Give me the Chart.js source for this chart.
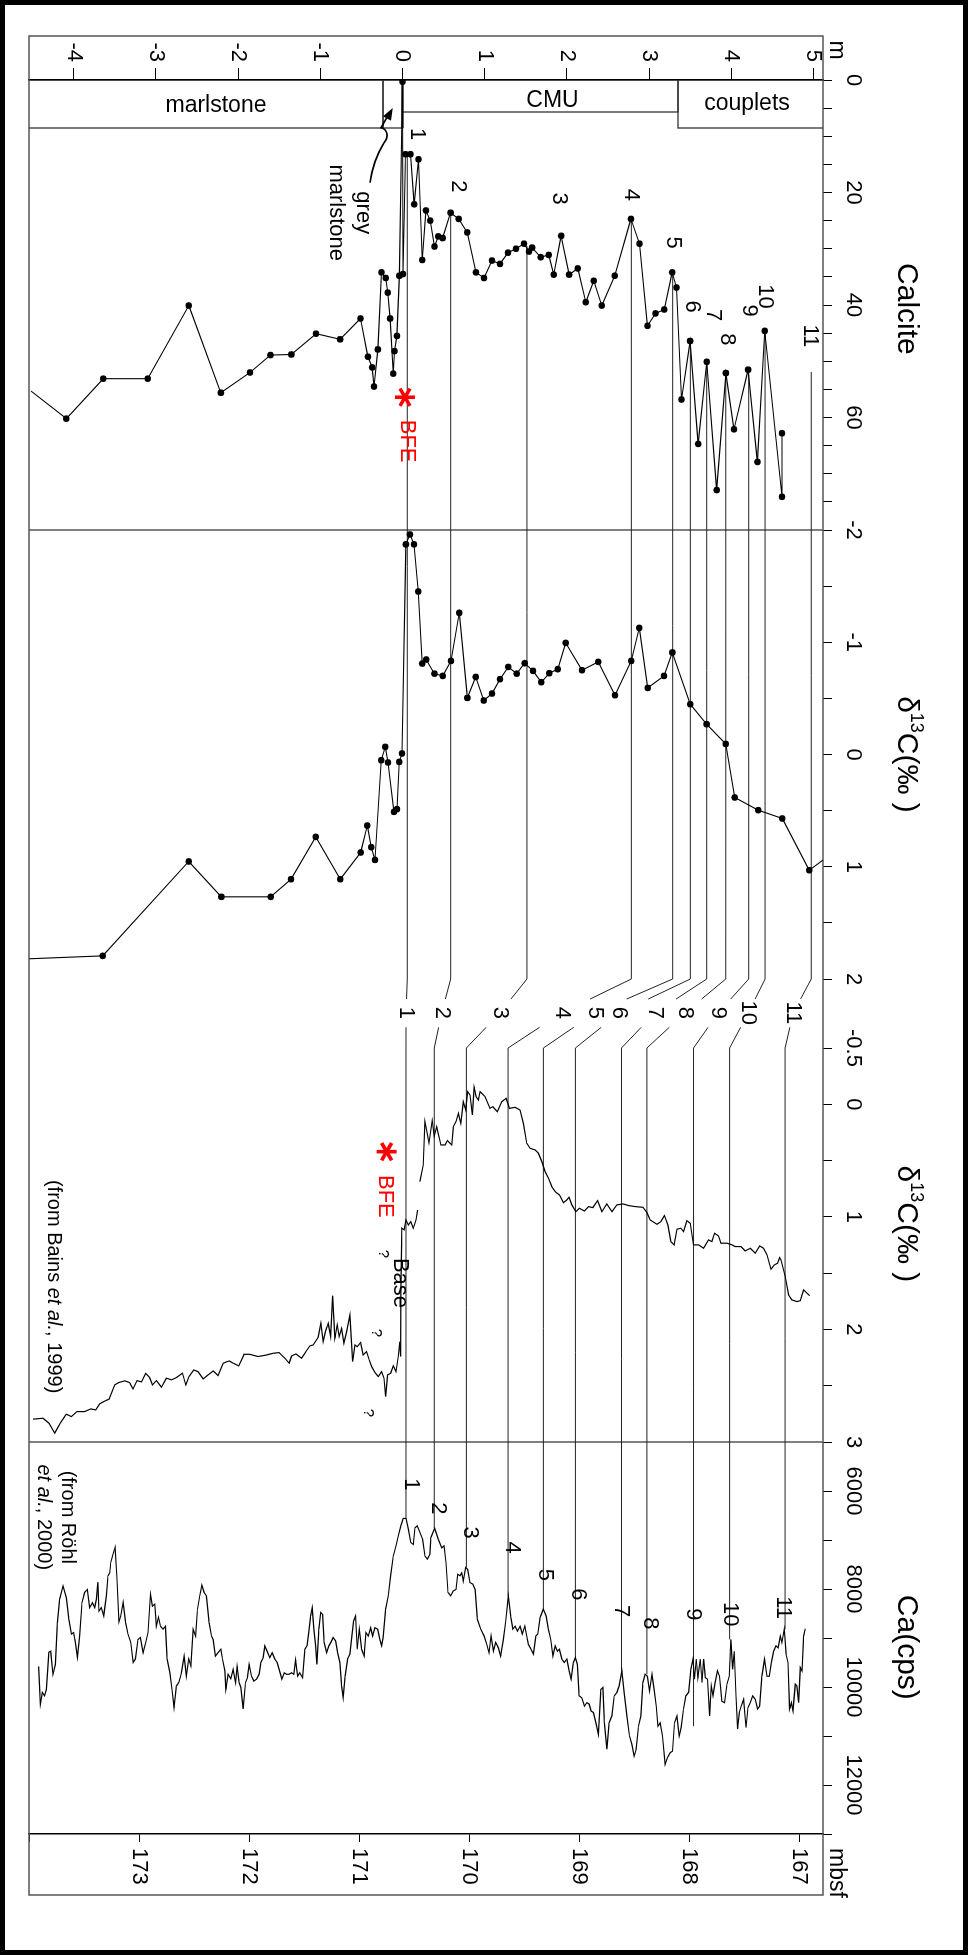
<!DOCTYPE html>
<html><head><meta charset="utf-8">
<script src="https://cdn.jsdelivr.net/npm/chart.js@4.4.1/dist/chart.umd.min.js"></script>
<style>
html,body{margin:0;padding:0;background:#fff;}
body{width:968px;height:1955px;overflow:hidden;position:relative;}
#c{position:absolute;left:0;top:0;transform-origin:0 0;transform:translate(968px,0) rotate(90deg);}
#border{position:absolute;left:0;top:0;width:968px;height:1955px;box-sizing:border-box;border:5px solid #000;pointer-events:none;}
</style></head><body>
<canvas id="c" width="1955" height="968"></canvas>
<div id="border"></div>
<script>
// ---------- DATA ----------
// Calcite (%) vs stratigraphic height (m)
const calDepth = [-4.52,-4.09,-3.64,-3.10,-2.60,-2.21,-1.855,-1.607,-1.352,-1.052,-0.759,-0.511,-0.421,-0.369,-0.347,-0.30,-0.256,-0.203,-0.18,-0.151,-0.113,-0.098,-0.068,-0.038,0.0,0.007,0.037,0.097,0.142,0.195,0.240,0.285,0.337,0.39,0.435,0.488,0.585,0.683,0.788,0.893,0.991,1.089,1.186,1.283,1.381,1.479,1.54,1.577,1.681,1.78,1.84,1.93,2.027,2.133,2.23,2.327,2.425,2.582,2.779,2.883,2.981,3.079,3.184,3.281,3.334,3.394,3.499,3.597,3.702,3.822,3.934,4.033,4.205,4.318,4.408,4.618,4.618];
const calValue = [55.3,60.2,53.1,53.1,40.1,55.6,52.0,48.9,48.8,45.1,46.1,42.4,49.2,51.1,54.5,47.9,34.2,35.2,37.8,42.4,52.2,48.2,45.5,34.8,0.3,34.5,13.2,13.2,22.1,14.1,32.0,23.2,25.0,29.6,27.8,28.1,23.6,24.7,27.1,34.2,35.2,32.1,32.7,30.7,30.0,29.1,30.5,29.8,31.5,31.1,34.6,27.7,34.6,33.5,39.5,35.7,40.1,34.8,24.7,29.1,43.7,41.5,40.8,34.2,36.9,56.8,46.4,64.7,50.1,72.9,52.1,62.1,51.5,67.9,44.6,74.1,62.8];
// d13C (permil) vs height (m)
const d13Depth = [-4.54,-3.648,-2.601,-2.204,-1.604,-1.356,-1.056,-0.757,-0.509,-0.428,-0.38,-0.335,-0.258,-0.209,-0.176,-0.103,-0.067,-0.039,-0.006,0.041,0.09,0.14,0.191,0.239,0.288,0.388,0.489,0.59,0.691,0.789,0.89,0.988,1.089,1.186,1.287,1.389,1.486,1.588,1.689,1.786,1.888,1.985,2.184,2.382,2.585,2.784,2.881,2.983,3.181,3.283,3.501,3.70,3.932,4.041,4.329,4.621,4.949,5.116];
const d13Value = [1.82,1.794,0.953,1.268,1.268,1.111,0.734,1.111,0.873,0.633,0.826,0.939,0.051,-0.068,0.071,0.511,0.487,0.066,-0.009,-1.872,-1.96,-1.872,-1.452,-0.81,-0.846,-0.72,-0.70,-0.834,-1.262,-0.504,-0.691,-0.481,-0.543,-0.671,-0.78,-0.72,-0.813,-0.745,-0.644,-0.724,-0.76,-0.994,-0.751,-0.825,-0.528,-0.834,-1.128,-0.593,-0.70,-0.909,-0.448,-0.27,-0.094,0.383,0.496,0.57,1.031,0.94];
// Bains et al. 1999 d13C vs mbsf
const bainsMbsf = [173.965,173.874,173.82,173.768,173.716,173.662,173.616,173.565,173.495,173.44,173.395,173.358,173.304,173.274,173.222,173.186,173.131,173.086,173.055,173.019,172.979,172.94,172.904,172.879,172.843,172.797,172.752,172.706,172.661,172.606,172.576,172.546,172.503,172.464,172.418,172.373,172.327,172.282,172.236,172.182,172.145,172.094,172.048,171.994,171.918,171.842,171.782,171.727,171.675,171.636,171.614,171.575,171.523,171.484,171.448,171.418,171.372,171.348,171.327,171.305,171.281,171.259,171.241,171.22,171.199,171.181,171.159,171.138,171.114,171.084,171.059,171.038,171.017,170.986,170.963,170.932,170.908,170.886,170.856,170.826,170.795,170.774,170.759,170.741,170.713,170.69,170.665,170.644,170.629,170.622,170.62,170.611,170.592,170.574,170.553,170.531,170.508,170.483,170.468,null,170.447,170.417,170.401,170.365,170.335,170.317,170.295,170.258,170.219,170.198,170.158,170.144,170.119,170.098,170.076,170.053,170.031,170.013,169.992,169.971,169.955,169.937,169.916,169.901,169.855,169.81,169.785,169.743,169.703,169.664,169.634,169.582,169.537,169.507,169.476,169.446,169.4,169.37,169.339,169.309,169.279,169.248,169.218,169.179,169.143,169.112,169.091,169.066,169.03,168.997,168.952,168.915,168.875,168.833,168.793,168.748,168.702,168.657,168.602,168.551,168.49,168.42,168.384,168.354,168.293,168.257,168.224,168.193,168.166,168.136,168.111,168.075,168.051,168.02,167.99,167.96,167.914,167.869,167.823,167.793,167.769,167.732,167.711,167.656,167.611,167.581,167.529,167.49,167.444,167.399,167.359,167.323,167.292,167.256,167.226,167.196,167.177,167.165,167.126,167.096,167.065,167.019,166.989,166.959,166.928,166.904];
const bainsD13C = [2.797,2.789,2.833,2.922,2.833,2.753,2.774,2.73,2.73,2.706,2.715,2.661,2.632,2.62,2.493,2.472,2.457,2.472,2.528,2.455,2.466,2.39,2.428,2.493,2.455,2.513,2.433,2.448,2.428,2.389,2.493,2.419,2.36,2.375,2.44,2.404,2.369,2.41,2.3,2.28,2.3,2.324,2.227,2.221,2.241,2.227,2.212,2.206,2.256,2.3,2.236,2.218,2.256,2.197,2.147,2.138,2.07,1.945,2.108,2.013,1.945,2.063,1.70,2.078,1.96,2.063,1.99,2.123,2.02,1.871,2.286,2.138,2.153,2.117,2.227,2.197,2.271,2.33,2.383,2.419,2.375,2.433,2.597,2.404,2.389,2.324,2.375,2.241,2.108,2.241,1.649,1.101,1.116,1.028,1.072,1.043,1.101,1.028,0.939,null,0.687,0.539,0.154,0.341,0.146,0.282,0.199,0.355,0.361,0.323,0.361,0.199,0.154,0.08,0.169,-0.023,0.051,-0.112,-0.083,0.095,-0.151,-0.068,-0.038,-0.112,-0.068,0.036,0.021,0.066,-0.023,-0.053,0.036,0.027,0.051,0.169,0.346,0.391,0.406,0.435,0.51,0.599,0.657,0.732,0.776,0.806,0.874,0.85,0.826,0.894,0.954,0.924,0.948,0.909,0.918,0.856,0.954,0.885,0.954,0.894,0.885,0.9,0.909,0.915,0.962,1.028,1.066,1.043,0.989,1.072,1.22,1.249,1.11,1.101,1.131,1.034,1.057,1.249,1.249,1.279,1.205,1.22,1.146,1.17,1.234,1.234,1.249,1.264,1.264,1.303,1.279,1.323,1.258,1.279,1.338,1.465,1.427,1.412,1.362,1.383,1.531,1.694,1.738,1.753,1.744,1.649,1.679,1.70];
// Röhl et al. 2000 Ca (cps) vs mbsf
const caMbsf = [173.913,173.898,173.880,173.859,173.843,173.820,173.804,173.783,173.761,173.743,173.722,173.692,173.661,173.638,173.616,173.595,173.580,173.561,173.540,173.519,173.495,173.470,173.449,173.425,173.404,173.388,173.374,173.365,173.343,173.322,173.297,173.283,173.267,173.258,173.237,173.219,173.201,173.183,173.167,173.146,173.122,173.101,173.076,173.055,173.034,173.010,172.988,172.964,172.940,172.919,172.897,172.879,172.858,172.843,172.824,172.806,172.783,172.761,172.746,172.721,172.701,172.682,172.661,172.640,172.615,172.591,172.570,172.549,172.530,172.509,172.487,172.469,172.449,172.430,172.409,172.388,172.364,172.342,172.327,172.306,172.282,172.257,172.242,172.221,172.212,172.191,172.166,172.146,172.124,172.109,172.091,172.075,172.055,172.033,172.015,172.000,171.978,171.957,171.933,171.909,171.893,171.872,171.857,171.836,171.812,171.791,171.766,171.745,171.727,171.702,171.681,171.660,171.636,171.614,171.593,171.578,171.559,171.539,171.514,171.493,171.472,171.454,171.441,171.427,171.411,171.396,171.384,171.366,171.350,171.332,171.318,171.296,171.275,171.257,171.236,171.214,171.196,171.175,171.159,171.145,171.127,171.105,171.084,171.066,171.050,171.032,171.017,170.999,170.977,170.954,170.938,170.917,170.895,170.877,170.856,170.832,170.811,170.795,170.781,170.759,170.735,170.713,170.690,170.665,170.644,170.620,170.599,170.574,170.553,170.531,170.508,170.492,170.471,170.447,170.422,170.401,170.380,170.356,170.347,170.313,170.280,170.249,170.228,170.210,170.192,170.167,170.144,170.119,170.104,170.083,170.067,170.053,170.031,170.013,169.992,169.967,169.946,169.925,169.894,169.864,169.840,169.819,169.801,169.780,169.758,169.734,169.713,169.689,169.667,169.643,169.621,169.603,169.582,169.561,169.537,169.516,169.494,169.476,169.461,169.437,169.416,169.394,169.376,169.355,169.325,169.300,169.279,169.258,169.239,169.218,169.197,169.179,169.157,169.136,169.112,169.091,169.073,169.052,169.034,169.016,169.000,168.976,168.952,168.930,168.909,168.891,168.870,168.848,168.825,168.803,168.784,168.770,168.748,168.727,168.703,168.681,168.657,168.636,168.612,168.591,168.566,168.542,168.520,168.499,168.481,168.460,168.438,168.420,168.400,168.379,168.360,168.338,168.318,168.299,168.284,168.263,168.242,168.218,168.197,168.172,168.151,168.133,168.111,168.090,168.072,168.051,168.029,168.005,167.984,167.965,167.951,167.935,167.920,167.899,167.883,167.869,167.853,167.833,167.814,167.799,167.784,167.763,167.742,167.724,167.702,167.678,167.656,167.635,167.620,167.605,167.590,167.574,167.560,167.544,167.526,167.505,167.483,167.465,167.444,167.423,167.399,167.378,167.359,167.338,167.314,167.292,167.271,167.253,167.232,167.210,167.192,167.171,167.156,167.135,167.119,167.101,167.087,167.071,167.056,167.035,167.020,167.005,166.989,166.974,166.959,166.944];
const caCps = [9580,10350,10110,10180,10050,9290,9270,9740,9540,8690,8210,7940,8180,8620,8920,8890,9090,9400,8960,8280,8070,8010,8380,8280,8380,8210,7860,8450,8380,8550,8140,7730,7670,7460,7290,7150,7800,8670,8550,8270,8690,8920,9090,9500,9430,9030,8990,9300,9090,8890,8110,8350,8310,8760,8580,8760,8820,8760,9430,9710,10050,10420,9980,9910,9710,9370,9780,9430,9570,8820,8960,8410,8140,7920,8070,8140,8690,8960,9030,9370,9300,9230,9430,9670,10050,9740,9830,9640,9910,9580,9910,10010,10450,9910,9810,9540,9780,9880,9840,9740,9500,9400,9160,9270,9400,9300,9430,9500,9640,9840,9710,9740,9740,9710,9740,9450,9780,9710,9810,9230,9150,8820,8550,8380,8820,9160,9540,8820,8480,8520,9090,9300,9160,9090,8990,9060,9300,9500,9980,10220,9780,9430,9330,8960,8650,8550,9230,8820,9230,9370,8890,8960,8790,8960,8790,8820,9030,9160,8990,8410,8140,7730,7330,7120,6920,6710,6560,6560,6780,7050,7090,6750,6710,6850,6990,7330,7390,7290,6950,6760,6990,7160,7120,7460,8070,8140,8040,8010,7700,7730,7670,7840,7560,7600,7870,7900,8010,8620,8820,8960,9130,9300,8960,9270,9090,9200,9370,9030,8650,8140,8580,8820,8760,8860,8760,8920,8760,8960,9130,9230,9330,8960,8920,8580,8410,8550,8820,9030,9370,9160,9270,9230,9430,9500,9430,9670,9840,9500,9400,9540,10180,10220,10390,10320,10350,10490,10520,10730,10970,10050,10010,10730,11270,10730,10590,10180,10110,9980,9670,10110,10590,11000,11170,11410,11270,10800,10590,9910,9740,9780,10080,9740,10050,10390,10800,10730,11000,11580,11440,11340,11310,10730,10590,11000,10830,10450,10180,10110,9640,9430,9840,9430,9810,9430,9910,9430,9810,9840,10590,9980,10180,9910,9670,9780,10290,10320,9940,9780,9030,9640,9270,10180,10860,10520,10390,10250,10830,10420,10320,10180,10250,10450,10390,9780,9430,9780,9780,9500,9270,9160,9200,8960,9090,8820,9330,9500,10450,10320,10490,9940,9980,10320,9600,9670,8960,8810];
// Correlation tie lines 1-11
const corrNames = ['1','2','3','4','5','6','7','8','9','10','11'];
const corrM = [0.058,0.586,1.514,2.784,3.287,3.502,3.701,3.933,4.212,4.411,4.973];
const corrCalStart = [13.2,23.6,29.5,24.7,34.2,46.4,50.1,52.1,51.5,44.6,51.9];
const corrGapLabelM = [0.043,0.477,1.186,1.937,2.342,2.637,3.072,3.437,3.842,4.207,4.754];
const corrMbsf = [170.574,170.317,170.025,169.646,169.325,169.034,168.615,168.384,167.960,167.632,167.128];
const corrCaEnd = [6560,6760,7560,8140,8410,9400,9670,9740,10800,9030,8820];
const calLabelCal = [9.6,18.9,21.1,20.4,28.9,40.3,41.8,46.1,41.0,38.5,45.5];
const calLabelM = [0.173,0.676,1.901,2.782,3.291,3.529,3.777,3.948,4.213,4.415,4.957];
const caLabelCa = [5863,6353,6849,7155,7714,8108,8449,8700,8516,8516,8380];
const caLabelMbsf = [170.531,170.28,169.992,169.612,169.309,169.006,168.618,168.354,167.96,167.626,167.147];
// Lithology column (m)
const lithNames = ['marlstone','','CMU','couplets'];
const lithBase = [-4.8,-0.237,0,3.352];
const lithTop = [-0.237,0,3.352,5.3];
const lithLabelM = [-2.269,null,1.825,4.191];

// ---------- STYLE ----------
const FONT = "'Liberation Sans', Arial, Helvetica, sans-serif";
const f = (s, st) => (st ? st + ' ' : '') + s + 'px ' + FONT;
const lithWidth = [48,48,32,48];
const lithLabelOff = [26,0,21,24];
const GAP_UP = 0.29, GAP_LABEL = 0.49, GAP_DN = 0.70;

const pts = (ys, xs) => xs.map((v, i) => ({x: v, y: ys[i]}));

function topAxis(min, max, step, weight, sw, labelFn) {
  return {
    type: 'linear', position: 'top', stack: 'panels', stackWeight: sw, weight: weight,
    min: min, max: max,
    ticks: { stepSize: step, includeBounds: false, autoSkip: false, maxRotation: 0, minRotation: 0, padding: 8,
             color: '#000', font: {family: FONT, size: 22}, callback: labelFn },
    grid: { drawOnChartArea: false, drawTicks: true, tickLength: 9, color: '#000', tickColor: '#000', lineWidth: 1 },
    border: { display: false },
    afterFit: s => { s.height = 145; }
  };
}

function star(ctx, x, y, r) {
  ctx.save(); ctx.strokeStyle = '#f00'; ctx.lineWidth = 3.6; ctx.lineCap = 'butt';
  [90, 30, 150].forEach(a => {
    const t = a * Math.PI / 180, dx = Math.cos(t) * r, dy = Math.sin(t) * r;
    ctx.beginPath(); ctx.moveTo(x - dx, y - dy); ctx.lineTo(x + dx, y + dy); ctx.stroke();
  });
  ctx.restore();
}
function rich(ctx, parts, x, y, size, align) {
  let total = 0;
  parts.forEach(p => { ctx.font = f(size, p.i ? 'italic' : ''); p.w = ctx.measureText(p.t).width; total += p.w; });
  let cx = align === 'center' ? x - total / 2 : x;
  ctx.textAlign = 'left';
  parts.forEach(p => { ctx.font = f(size, p.i ? 'italic' : ''); ctx.fillText(p.t, cx, y); cx += p.w; });
}
function d13Title(ctx, cx, y) {
  ctx.font = f(30); const w1 = ctx.measureText('δ').width, w3 = ctx.measureText('C(‰ )').width;
  ctx.font = f(18); const w2 = ctx.measureText('13').width;
  let x = cx - (w1 + w2 + w3) / 2; ctx.textAlign = 'left';
  ctx.font = f(30); ctx.fillText('δ', x, y); x += w1;
  ctx.font = f(18); ctx.fillText('13', x, y - 13); x += w2;
  ctx.font = f(30); ctx.fillText('C(‰ )', x, y);
}

const annotations = {
  id: 'annotations',
  beforeDatasetsDraw(chart) {
    const ctx = chart.ctx, ca = chart.chartArea, S = chart.scales;
    const yM = v => S.ym.getPixelForValue(v), yB = v => S.ymbsf.getPixelForValue(v);
    ctx.save();
    // frame
    ctx.strokeStyle = '#555'; ctx.lineWidth = 1.5;
    const fx0 = S.ym.right - 44, fx1 = S.ymbsf.left + 61;
    ctx.strokeRect(fx0, ca.top, fx1 - fx0, ca.bottom - ca.top);
    [S.xC1.left, S.xCa.left].forEach(x => { ctx.beginPath(); ctx.moveTo(x, ca.top); ctx.lineTo(x, ca.bottom); ctx.stroke(); });
    // lithology column
    ctx.save(); ctx.beginPath(); ctx.rect(ca.left, ca.top, ca.right - ca.left, ca.bottom - ca.top); ctx.clip();
    ctx.strokeStyle = '#333'; ctx.lineWidth = 1.3;
    lithNames.forEach((n, i) => {
      const y1 = yM(lithTop[i]), y2 = yM(lithBase[i]);
      ctx.strokeRect(ca.left, y1, lithWidth[i], y2 - y1);
    });
    ctx.restore();
    ctx.strokeStyle = '#000'; ctx.lineWidth = 2.2;
    ctx.beginPath(); ctx.moveTo(ca.left, yM(0)); ctx.lineTo(ca.left + 48, yM(0)); ctx.stroke();
    // correlation lines
    ctx.strokeStyle = '#222'; ctx.lineWidth = 1;
    const xA = S.xGap.left, xB = S.xGap.right;
    const xu = S.xGap.getPixelForValue(GAP_UP), xl = S.xGap.getPixelForValue(GAP_LABEL), xd = S.xGap.getPixelForValue(GAP_DN);
    corrNames.forEach((n, i) => {
      const ya = yM(corrM[i]), yl = yM(corrGapLabelM[i]), yb = yB(corrMbsf[i]);
      const t1 = (xl - xu) / (xl - xA), t2 = (xd - xl) / (xB - xl);
      ctx.beginPath();
      ctx.moveTo(S.xCal.getPixelForValue(corrCalStart[i]), ya);
      ctx.lineTo(xA, ya);
      ctx.lineTo(xu, yl + (ya - yl) * t1);
      ctx.stroke();
      ctx.beginPath();
      ctx.moveTo(xd, yl + (yb - yl) * t2);
      ctx.lineTo(xB, yb);
      ctx.lineTo(S.xCa.getPixelForValue(corrCaEnd[i]), yb);
      ctx.stroke();
    });
    ctx.restore();
  },
  afterDatasetsDraw(chart) {
    const ctx = chart.ctx, ca = chart.chartArea, S = chart.scales;
    const yM = v => S.ym.getPixelForValue(v), yB = v => S.ymbsf.getPixelForValue(v);
    const xCal = v => S.xCal.getPixelForValue(v), xC1 = v => S.xC1.getPixelForValue(v);
    const xC2 = v => S.xC2.getPixelForValue(v), xCa = v => S.xCa.getPixelForValue(v);
    ctx.save();
    ctx.fillStyle = '#000'; ctx.textAlign = 'center'; ctx.textBaseline = 'middle';
    ctx.font = f(22);
    const xl = S.xGap.getPixelForValue(GAP_LABEL);
    corrNames.forEach((t, i) => {
      ctx.fillText(t, xCal(calLabelCal[i]), yM(calLabelM[i]));
      ctx.fillText(t, xl, yM(corrGapLabelM[i]));
      ctx.fillText(t, xCa(caLabelCa[i]), yB(caLabelMbsf[i]));
    });
    // lithology labels (upright in the rotated figure)
    ctx.font = f(23);
    lithNames.forEach((n, i) => {
      if (!n) return;
      ctx.save(); ctx.translate(ca.left + lithLabelOff[i], yM(lithLabelM[i])); ctx.rotate(-Math.PI / 2);
      ctx.fillText(n, 0, 0); ctx.restore();
    });
    // grey marlstone + arrow
    ctx.textBaseline = 'alphabetic'; ctx.font = f(22);
    const gx = xCal(23.6), gy = yM(-0.553);
    ctx.fillText('grey', gx, gy); ctx.fillText('marlstone', gx, gy + 27);
    const sx = gx - 30, sy = gy - 13;
    const tipX = ca.left + 28, tipY = yM((lithBase[1] + lithTop[1]) / 2);
    ctx.strokeStyle = '#000'; ctx.lineWidth = 1.6;
    ctx.beginPath(); ctx.moveTo(sx, sy);
    ctx.quadraticCurveTo(sx - 22, sy - 3, sx - 40, sy - 14);
    ctx.bezierCurveTo(sx - 47, sy - 20, sx - 54, sy - 16, sx - 55, sy - 11);
    ctx.lineTo(tipX + 8, tipY + 5);
    ctx.stroke();
    const dx = -20, dy = -11, L = Math.hypot(dx, dy), ux = dx / L, uy = dy / L;
    ctx.fillStyle = '#000'; ctx.beginPath();
    ctx.moveTo(tipX, tipY);
    ctx.lineTo(tipX - ux * 12 - uy * 4.5, tipY - uy * 12 + ux * 4.5);
    ctx.lineTo(tipX - ux * 12 + uy * 4.5, tipY - uy * 12 - ux * 4.5);
    ctx.closePath(); ctx.fill();
    // BFE
    star(ctx, xCal(56.4), yM(0.03), 10);
    star(ctx, xC2(0.421), yB(170.75), 10);
    ctx.fillStyle = '#f00'; ctx.font = f(22); ctx.textAlign = 'left'; ctx.textBaseline = 'middle';
    ctx.fillText('BFE', xCal(60.4), yM(0.061));
    ctx.fillText('BFE', xC2(0.628), yB(170.761));
    // Base and question marks
    ctx.fillStyle = '#000';
    ctx.fillText('Base', xC2(1.365), yB(170.629));
    ctx.font = f(15); ctx.textAlign = 'center';
    [[1.329, 170.783], [2.031, 170.847], [2.742, 170.917]].forEach(q => ctx.fillText('?', xC2(q[0]), yB(q[1])));
    // citations
    rich(ctx, [{t: '(from Bains '}, {t: 'et al.', i: true}, {t: ', 1999)'}], xC2(0.672), yB(173.777), 20, 'left');
    rich(ctx, [{t: '(from Röhl'}], xCa(6537), yB(173.654), 20, 'center');
    rich(ctx, [{t: 'et al.', i: true}, {t: ', 2000)'}], xCa(6537), yB(173.868), 20, 'center');
    // titles
    ctx.textBaseline = 'alphabetic'; ctx.textAlign = 'center'; ctx.font = f(30);
    const ty = ca.top - 75;
    ctx.fillText('Calcite', xCal(40.7), ty);
    d13Title(ctx, xC1(0), ty);
    d13Title(ctx, xC2(1.063), ty);
    ctx.textAlign = 'center'; ctx.font = f(30);
    ctx.fillText('Ca(cps)', xCa(9190), ty);
    // axis unit labels
    ctx.font = f(23); ctx.textAlign = 'center';
    ctx.fillText('m', S.ym.right - 30, ca.top - 7);
    ctx.textAlign = 'left';
    ctx.fillText('mbsf', S.ymbsf.left + 14, ca.top - 7);
    ctx.restore();
  }
};

const lineDs = (data, xId, yId, pr, bw) => ({
  data: data, xAxisID: xId, yAxisID: yId, showLine: true, spanGaps: false,
  borderColor: '#000', backgroundColor: '#000', borderWidth: bw,
  pointRadius: pr, pointHoverRadius: 0, pointBorderWidth: 0
});

new Chart(document.getElementById('c'), {
  type: 'scatter',
  data: {
    datasets: [
      lineDs(pts(calDepth, calValue), 'xCal', 'ym', c => (c.dataIndex === 0 ? 0 : 3.3), 1.1),
      lineDs(pts(d13Depth, d13Value), 'xC1', 'ym', c => (c.dataIndex === 0 || c.dataIndex === d13Depth.length - 1 ? 0 : 3.3), 1.1),
      lineDs(pts(bainsMbsf, bainsD13C), 'xC2', 'ymbsf', 0, 1.2),
      lineDs(pts(caMbsf, caCps), 'xCa', 'ymbsf', 0, 1.2)
    ]
  },
  options: {
    responsive: false, animation: false, events: [],
    layout: { padding: { left: 0, right: 0, top: 0, bottom: 29 } },
    plugins: { legend: { display: false }, tooltip: { enabled: false } },
    scales: {
      xCal: topAxis(0, 80, 5, 5, 450, v => (v % 20 === 0 && v < 80 ? v : '')),
      xC1: topAxis(-2, 2, 0.5, 4, 449, v => (Number.isInteger(v) ? v : '')),
      xGap: { type: 'linear', position: 'top', stack: 'panels', stackWeight: 69, weight: 3, min: 0, max: 1,
              ticks: { display: false }, grid: { display: false }, border: { display: false },
              afterFit: s => { s.height = 145; } },
      xC2: topAxis(-0.5, 3, 0.5, 2, 394, v => (v === -0.5 || Number.isInteger(v) ? v : '')),
      xCa: topAxis(5000, 13000, 1000, 1, 392, v => (v % 2000 === 0 && v >= 6000 && v <= 12000 ? v : '')),
      ym: { type: 'linear', position: 'left', min: -4.544, max: 5.116,
            ticks: { stepSize: 1, includeBounds: false, autoSkip: false, padding: 6, color: '#000', font: { family: FONT, size: 22 } },
            grid: { drawOnChartArea: false, tickLength: 12, color: '#000', tickColor: '#000' },
            border: { display: true, color: '#000', width: 1.5 },
            afterFit: s => { s.width = 80; } },
      ymbsf: { type: 'linear', position: 'right', reverse: true, min: 166.783, max: 174.001,
            ticks: { stepSize: 1, includeBounds: false, autoSkip: false, padding: 6, color: '#000', font: { family: FONT, size: 22 },
                     callback: v => (v <= 173.5 ? v : '') },
            grid: { drawOnChartArea: false, tickLength: 8, color: '#000', tickColor: '#000' },
            border: { display: true, color: '#000', width: 1.5 },
            afterFit: s => { s.width = 121; } }
    }
  },
  plugins: [annotations]
});
</script></body></html>
